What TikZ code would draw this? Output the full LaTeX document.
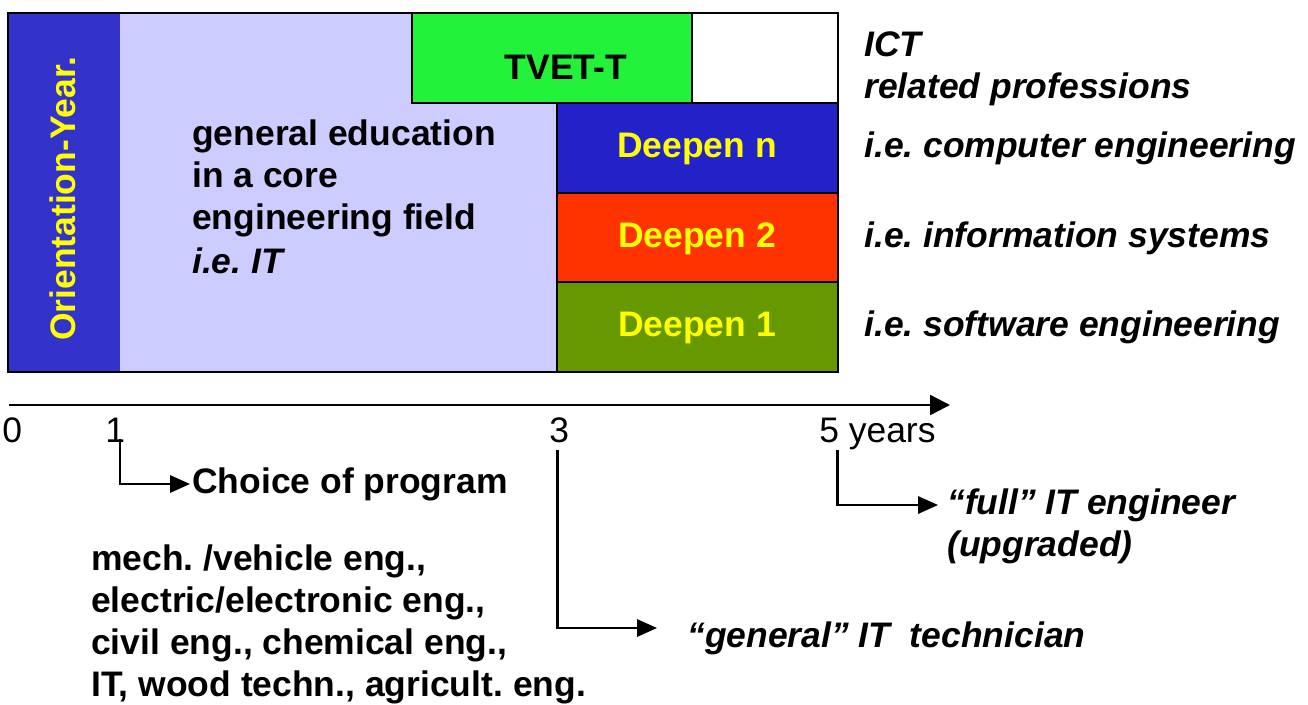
\documentclass[tikz,border=0pt]{standalone}
\usepackage{fontspec}
\setmainfont{Liberation Sans}
\usetikzlibrary{arrows.meta}
\frenchspacing
\definecolor{orientblue}{HTML}{3333CC}
\definecolor{lavender}{HTML}{CCCCFF}
\definecolor{tvetgreen}{HTML}{22F23A}
\definecolor{deepblue}{HTML}{2222C8}
\definecolor{deepred}{HTML}{FF3300}
\definecolor{deepolive}{HTML}{669900}
\definecolor{txtyellow}{HTML}{FFFF00}
\tikzset{
  txt/.style={inner sep=0pt, font=\fontsize{26.6}{32}\selectfont\bfseries},
  itxt/.style={txt, font=\fontsize{26.6}{32}\selectfont\bfseries\itshape},
  rtxt/.style={inner sep=0pt, font=\fontsize{26.6}{32}\selectfont},
  ytxt/.style={txt, text=txtyellow},
  boxline/.style={draw=black, line width=1.5pt},
  conn/.style={line width=1.6pt, -{Triangle[length=15pt,width=13pt]}},
  axisline/.style={line width=1.8pt, -{Triangle[length=15pt,width=15pt]}}
}
\begin{document}
\frenchspacing
\begin{tikzpicture}[x=0.75pt,y=-0.75pt]
\useasboundingbox (0,0) rectangle (1308,704);
% boxes
\fill[lavender] (8,13) rectangle (557,371.5);
\fill[orientblue] (8,13) rectangle (120,371.5);
\path[boxline, fill=tvetgreen] (412,13) rectangle (692,102.5);
\path[boxline, fill=white] (692,13) rectangle (837.5,102.5);
\path[boxline, fill=deepblue] (557,102.5) rectangle (837.5,192.5);
\path[boxline, fill=deepred] (557,192.5) rectangle (837.5,282);
\path[boxline, fill=deepolive] (557,282) rectangle (837.5,371.5);
\draw[boxline] (8,13) rectangle (837.5,371.5);
% box texts
\node[ytxt, rotate=90, anchor=base] (orient) at (75,199) {Orientation-Year.};
\node[txt, anchor=base] (tvet) at (566,79) {TVET-T};
\node[ytxt, anchor=base] (dn) at (697,157) {Deepen n};
\node[ytxt, anchor=base] (d2) at (697,247) {Deepen 2};
\node[ytxt, anchor=base] (d1) at (697,336) {Deepen 1};
\node[txt, anchor=base west] (ge1) at (192,145) {general education};
\node[txt, anchor=base west] (ge2) at (192,187) {in a core};
\node[txt, anchor=base west] (ge3) at (192,229) {engineering field};
\node[itxt, anchor=base west] (ge4) at (192,273) {i.e. IT};
% right labels
\node[itxt, anchor=base west] (ict1) at (864,56) {ICT};
\node[itxt, anchor=base west] (ict2) at (864,98) {related professions};
\node[itxt, anchor=base west] (rn) at (864,157) {i.e. computer engineering};
\node[itxt, anchor=base west] (r2) at (864,247) {i.e. information systems};
\node[itxt, anchor=base west] (r1) at (864,336) {i.e. software engineering};
% axis
\coordinate (ax0) at (9,405);
\coordinate (ax1) at (950,405);
\draw[axisline] (ax0) -- (ax1);
\node[rtxt, anchor=base west] (t0) at (2,442) {0};
\node[rtxt, anchor=base west] (t1) at (105,442) {1};
\node[rtxt, anchor=base west] (t3) at (549,442) {3};
\node[rtxt, anchor=base west] (t5) at (819,442) {5 years};
% connectors
\coordinate (c1) at (120,439);
\coordinate (a1) at (190,484);
\draw[conn] (c1) |- (a1);
\node[txt, anchor=base west] (choice) at (192,493) {Choice of program};
\coordinate (c3) at (557.5,450);
\coordinate (a3) at (657,628);
\draw[conn] (c3) |- (a3);
\node[itxt, anchor=base west] (gen) at (687,647) {“general” IT\ \ technician};
\coordinate (c5) at (837.5,450);
\coordinate (a5) at (938,505);
\draw[conn] (c5) |- (a5);
\node[itxt, anchor=base west] (full1) at (947,514) {“full” IT engineer};
\node[itxt, anchor=base west] (full2) at (947,556) {(upgraded)};
% programs
\node[txt, anchor=base west] (p1) at (91,570) {mech. /vehicle eng.,};
\node[txt, anchor=base west] (p2) at (91,612) {electric/electronic eng.,};
\node[txt, anchor=base west] (p3) at (91,654) {civil eng., chemical eng.,};
\node[txt, anchor=base west] (p4) at (91,696) {IT, wood techn., agricult. eng.};
\end{tikzpicture}
\end{document}
